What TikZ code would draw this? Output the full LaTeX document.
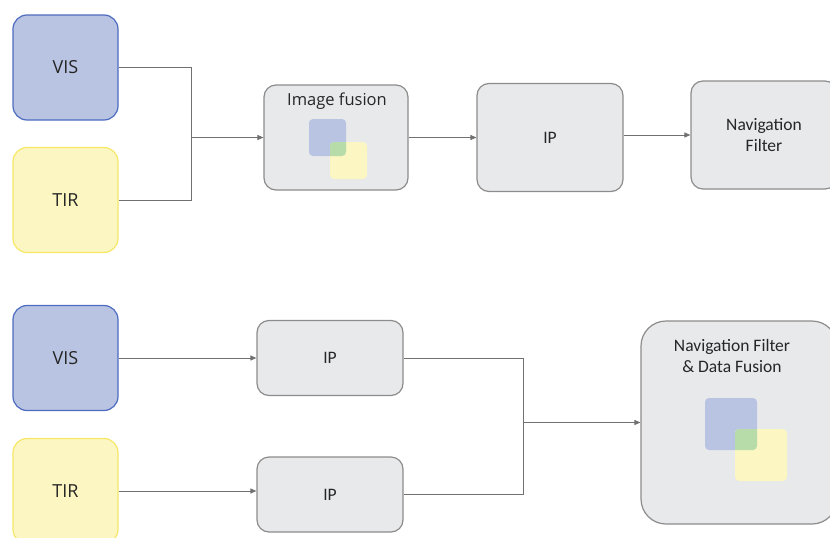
\documentclass[tikz,border=0pt]{standalone}
\usepackage{fontspec}
\setmainfont{Open Sans}
\newfontfamily\calfont{Carlito}
\usetikzlibrary{arrows.meta}
\definecolor{visfill}{HTML}{B9C4E3}
\definecolor{visdraw}{HTML}{4D6CBF}
\definecolor{tirfill}{HTML}{FBF6C2}
\definecolor{tirdraw}{HTML}{F6E866}
\definecolor{procfill}{HTML}{E8E9EB}
\definecolor{procdraw}{HTML}{8C8C8C}
\definecolor{wire}{HTML}{707070}
\definecolor{overlap}{HTML}{B7DCA9}
\definecolor{ink}{HTML}{262626}
\tikzset{
  sensor/.style={rounded corners=14pt, line width=1.2pt, minimum width=105pt,
    minimum height=105pt, inner sep=0pt, text=ink, font=\fontsize{18}{21}\selectfont},
  visbox/.style={sensor, fill=visfill, draw=visdraw},
  tirbox/.style={sensor, fill=tirfill, draw=tirdraw},
  proc/.style={rounded corners=12pt, line width=1.2pt, fill=procfill, draw=procdraw,
    inner sep=0pt, align=center, text=ink, font=\calfont\fontsize{17.5}{21}\selectfont},
  wireline/.style={draw=wire, line width=0.9pt},
  flow/.style={wireline, -{Triangle[length=6pt,width=5pt]}},
  plain/.style={inner sep=0pt, align=center, text=ink},
}
\newcommand{\fusionsquares}[5]{%
  % #1,#2: blue square corner; #3,#4: yellow square corner; #5: side
  \fill[visfill, rounded corners=4pt] (#1,#2) rectangle ++(#5,#5);
  \fill[tirfill, rounded corners=4pt] (#3,#4) rectangle ++(#5,#5);
  \begin{scope}
    \clip[rounded corners=4pt] (#1,#2) rectangle ++(#5,#5);
    \fill[overlap, rounded corners=4pt] (#3,#4) rectangle ++(#5,#5);
  \end{scope}}
\begin{document}
\begin{tikzpicture}[x=1pt, y=-1pt]
\useasboundingbox (0,0) rectangle (830,538);

% ---------- upper chain: image-level fusion ----------
\node[visbox] (vis1) at (65.5,67.5) {VIS};
\node[tirbox] (tir1) at (65.5,200) {TIR};
\node[proc, minimum width=144pt, minimum height=105pt] (fuse) at (336,137.5) {};
\node[plain, font=\fontsize{16.5}{19}\selectfont] (fuselabel) at (337,101) {Image fusion};
\fusionsquares{309}{119}{330}{142}{37}
\node[proc, minimum width=146pt, minimum height=108pt] (ip1) at (550,137.5) {IP};
\node[proc, minimum width=146pt, minimum height=108pt] (nav1) at (764,135) {Navigation\\Filter};

\coordinate (j1) at (191,137.5);
\draw[wireline] (vis1.east) -| (j1);
\draw[wireline] (tir1.east) -| (j1);
\draw[flow] (j1) -- (fuse.west);
\draw[flow] (fuse.east) -- (ip1.west);
\draw[flow] (nav1.west -| ip1.east) -- (nav1.west);

% ---------- lower chain: data-level fusion ----------
\node[visbox] (vis2) at (65.5,358) {VIS};
\node[tirbox] (tir2) at (65.5,491) {TIR};
\node[proc, minimum width=146pt, minimum height=75pt] (ip2) at (330,358) {IP};
\node[proc, minimum width=146pt, minimum height=75pt] (ip3) at (330,494.5) {IP};
\node[proc, rounded corners=25pt, minimum width=196pt, minimum height=203pt] (nav2) at (739,422.5) {};
\node[plain, font=\calfont\fontsize{17.5}{21}\selectfont] (nav2label) at (732,356)
  {Navigation Filter\\\& Data Fusion};
\fusionsquares{705}{398}{735}{429}{52}

\coordinate (j2) at (523,422.5);
\draw[flow] (vis2.east) -- (ip2.west);
\draw[flow] (tir2.east) -- (tir2.east -| ip3.west);
\draw[wireline] (ip2.east) -| (j2);
\draw[wireline] (ip3.east) -| (j2);
\draw[flow] (j2) -- (nav2.west);
\end{tikzpicture}
\end{document}
